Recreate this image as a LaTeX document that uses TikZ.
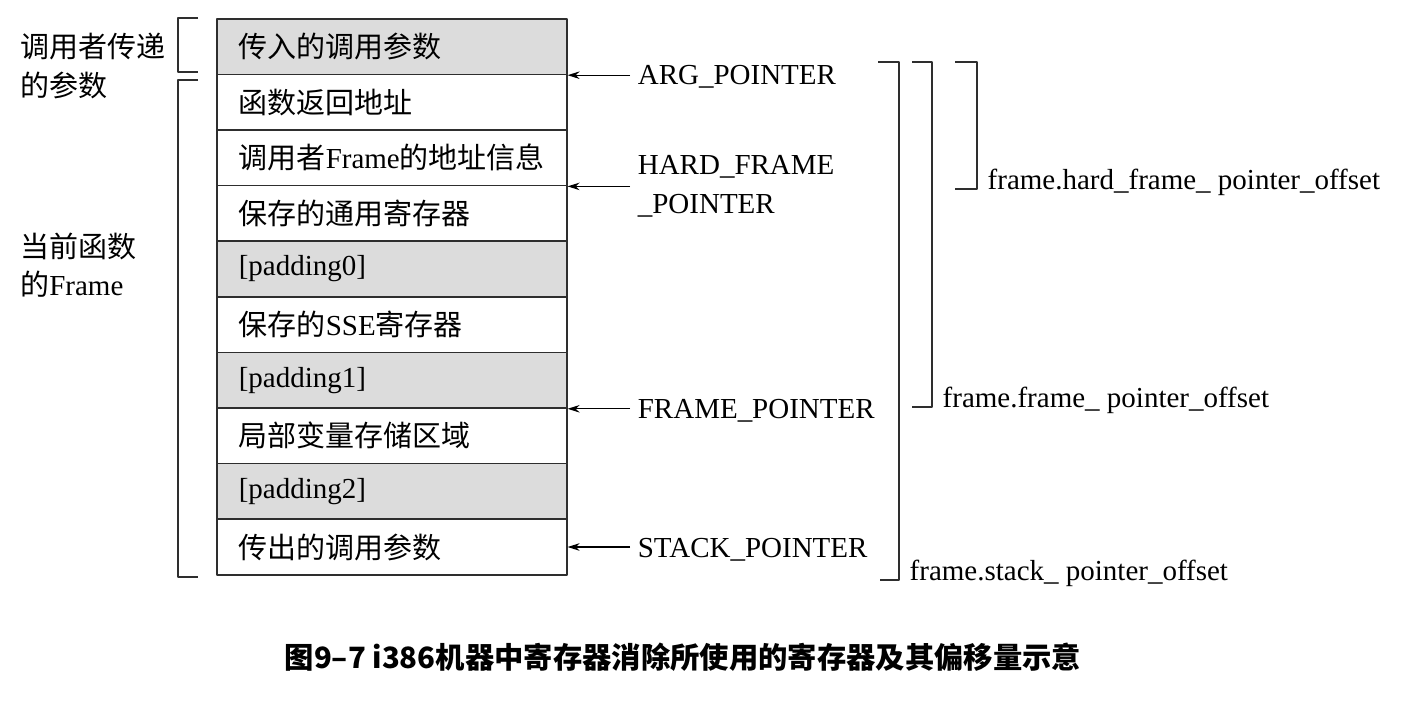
\documentclass[tikz,border=0pt]{standalone}
\usepackage{fontspec}
\setmainfont{Liberation Serif}
\newfontfamily\zhfont{Noto Sans CJK SC}
\newcommand{\zh}[1]{{\zhfont #1}}
\usetikzlibrary{positioning,arrows.meta}
\definecolor{shade}{HTML}{DCDCDC}
\definecolor{ink}{HTML}{2E2E2E}
\begin{document}
\begin{tikzpicture}[x=0.2mm, y=-0.2mm, line join=round, >={Stealth[length=2.4mm,width=1.5mm]},
  font=\fontsize{16.5}{22}\selectfont,
  cell/.style={draw=ink, line width=0.9pt, minimum width=70mm, minimum height=11.12mm,
    inner xsep=4.4mm, text width=61.2mm, align=left, anchor=north west},
  ptr/.style={anchor=west, inner ysep=1pt, inner xsep=1.5mm, align=left},
  offs/.style={anchor=base west, inner sep=0pt, xshift=2mm, text=black},
  brk/.style={ink, line width=0.8pt}]
\useasboundingbox (0,0) rectangle (1416,706);
\def\ytop{18} \def\rowh{55.6}
% stack frame
\foreach \t/\c [count=\i from 0] in {{\zh{传入的调用参数}}/shade, {\zh{函数返回地址}}/white,
  {\zh{调用者}Frame\zh{的地址信息}}/white, {\zh{保存的通用寄存器}}/white, {[padding0]}/shade,
  {\zh{保存的}SSE\zh{寄存器}}/white, {[padding1]}/shade, {\zh{局部变量存储区域}}/white,
  {[padding2]}/shade, {\zh{传出的调用参数}}/white}
  \node[cell, fill=\c] (r\i) at (216,{\ytop+\i*\rowh}) {\t};
% left braces
\draw[brk] (198,18) -| (178,72) -- (198,72);
\draw[brk] (198,80) -| (178,577) -- (198,577);
\node[anchor=west, align=left, inner sep=0pt] (callarg) at (20,66) {\zh{调用者传递}\\\zh{的参数}};
\node[anchor=west, align=left, inner sep=0pt] (curframe) at (20,265) {\zh{当前函数}\\\zh{的}Frame};
% pointers
\node[ptr] (argp) at (630,77) {ARG\_POINTER};
\node[ptr] (hfp) at (630,186) {HARD\_FRAME\\\_POINTER};
\node[ptr] (fp) at (630,411) {FRAME\_POINTER};
\node[ptr] (sp) at (630,550) {STACK\_POINTER};
\draw[->, line width=0.7pt] (argp.west |- r0.south east) -- (r0.south east);
\draw[->, line width=0.7pt] (hfp.west |- r2.south east) -- (r2.south east);
\draw[->, line width=0.7pt] (fp.west |- r6.south east) -- (r6.south east);
\draw[->, line width=0.7pt] (sp.west |- r9.east) -- (r9.east);
% offsets
\draw[brk] (878,62) -| (899,580) node[offs] (sfo) {frame.stack\_ pointer\_offset} -- (880,580);
\draw[brk] (912,62) -| (932,407) node[offs] (ffo) {frame.frame\_ pointer\_offset} -- (912,407);
\draw[brk] (955,62) -| (977,189) node[offs] (hfo) {frame.hard\_frame\_ pointer\_offset} -- (955,189);
\node[font=\zhfont\bfseries\fontsize{16.7}{20}\selectfont] (cap) at (683,657)
  {图9–7 i386机器中寄存器消除所使用的寄存器及其偏移量示意};
\end{tikzpicture}
\end{document}
